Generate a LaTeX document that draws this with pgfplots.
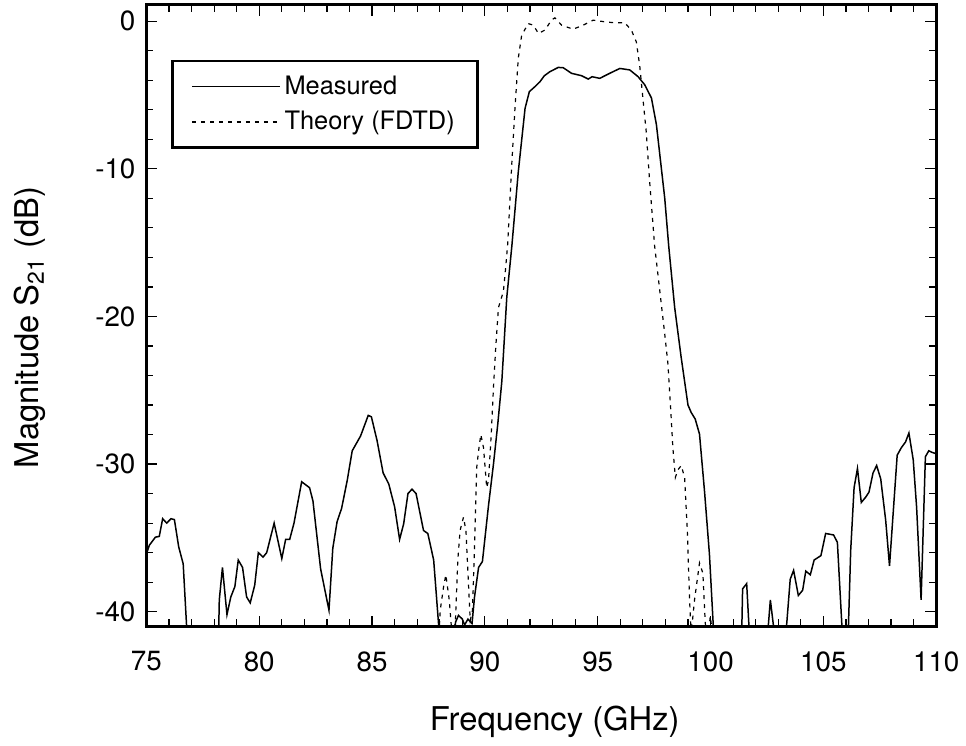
\documentclass[border=0pt]{standalone}
\usepackage{fontspec}
\setmainfont{TeX Gyre Heros}
\usepackage{pgfplots}
\pgfplotsset{compat=1.18}
\begin{document}
\begin{tikzpicture}
\path (0bp,0bp) rectangle (483bp,374.5bp);
\begin{axis}[
  at={(73.5bp,60bp)}, anchor=south west,
  scale only axis, width=396.5bp, height=312bp,
  xmin=75, xmax=110, ymin=-41, ymax=1.1,
  xtick={75,80,...,110}, ytick={-40,-30,...,0},
  minor x tick num=4, minor y tick num=4,
  tick align=inside,
  major tick length=5.5bp, minor tick length=3.5bp,
  every tick/.style={black, line width=0.6bp},
  axis line style={line width=1.5bp},
  /pgf/number format/assume math mode=true,
  ticklabel style={font=\fontsize{14}{16}\selectfont},
  xticklabel style={yshift=-9bp},
  yticklabel style={xshift=-2bp},
  xlabel={Frequency (GHz)},
  ylabel={Magnitude S\textsubscript{21} (dB)},
  label style={font=\fontsize{16.5}{19}\selectfont},
  xlabel style={at={(axis description cs:0.517,-0.117)}, anchor=north},
  ylabel style={at={(axis description cs:-0.1185,0.481)}, anchor=south},
  legend style={at={(rel axis cs:0.0315,0.912)}, anchor=north west,
    draw=black, line width=1.2bp, font=\fontsize{12.8}{14}\selectfont,
    inner xsep=9.5bp, inner ysep=5.5bp, row sep=3bp,
    /tikz/every even column/.append style={column sep=6bp}},
  legend cell align=left,
  legend image code/.code={\draw[#1] (0bp,0bp) -- (44bp,0bp);},
]
\addplot[black, line width=0.75bp] coordinates {
(75.0,-36.1) (75.13,-35.5) (75.4,-34.95) (75.57,-34.9) (75.72,-33.7) (75.9,-34.0)
(76.09,-33.7) (76.24,-33.76) (76.43,-35.6) (76.63,-36.76) (76.8,-41.5) (77.5,-50)
(78.2,-41.5) (78.23,-39.2) (78.37,-37.0) (78.57,-40.2) (78.74,-39.0) (78.92,-38.3)
(79.07,-36.5) (79.26,-37.0) (79.44,-39.0) (79.6,-39.4) (79.8,-38.2) (79.96,-36.0)
(80.17,-36.3) (80.33,-36.0) (80.66,-34.0) (81.0,-36.4) (81.17,-35.1) (81.35,-35.1)
(81.54,-34.0) (81.88,-31.2) (82.23,-31.6) (82.38,-32.5) (82.72,-37.1) (83.09,-39.9)
(83.26,-35.7) (83.45,-33.9) (83.65,-33.0) (83.9,-31.1) (84.12,-29.1) (84.49,-28.1)
(84.83,-26.7) (84.97,-26.8) (85.22,-28.4) (85.49,-30.6) (85.74,-31.35) (86.0,-32.9)
(86.22,-35.1) (86.4,-34.05) (86.59,-32.0) (86.77,-31.7) (86.95,-32.0) (87.28,-34.5)
(87.47,-34.7) (87.73,-36.5) (87.98,-41.5) (88.3,-50) (88.66,-41.5) (88.7,-40.7)
(88.83,-40.25) (89.0,-40.5) (89.1,-40.9) (89.25,-40.5) (89.43,-40.8) (89.54,-39.0)
(89.72,-37.0) (89.89,-36.6) (90.16,-32.8) (90.38,-30.0) (90.57,-27.3) (90.75,-24.4)
(90.97,-18.7) (91.19,-15.3) (91.48,-10.2) (91.78,-5.9) (91.97,-4.77) (92.22,-4.43)
(92.44,-4.1) (92.63,-3.7) (92.88,-3.42) (93.25,-3.13) (93.47,-3.15) (93.84,-3.53)
(94.28,-3.69) (94.58,-3.92) (94.75,-3.76) (95.09,-3.87) (95.53,-3.53) (95.98,-3.2)
(96.42,-3.3) (96.79,-3.76) (97.08,-4.3) (97.38,-5.2) (97.6,-7.0) (97.97,-12.0)
(98.15,-15.3) (98.41,-19.4) (98.7,-22.8) (99.0,-26.0) (99.14,-26.5) (99.32,-26.95)
(99.51,-27.97) (99.73,-31.8) (99.95,-36.1) (100.14,-41.5) (100.8,-50) (101.38,-41.5)
(101.42,-38.45) (101.6,-38.1) (101.72,-41.5) (102.1,-50) (102.53,-41.5) (102.65,-39.2)
(102.83,-41.5) (103.1,-50) (103.34,-41.5) (103.53,-37.8) (103.68,-37.2) (103.89,-38.9)
(104.08,-38.55) (104.22,-37.25) (104.42,-37.5) (104.59,-36.5) (104.89,-36.2) (105.1,-34.7)
(105.45,-34.8) (105.62,-35.3) (105.84,-41.5) (105.97,-50) (106.1,-41.5) (106.21,-35.85)
(106.36,-31.6) (106.51,-30.3) (106.68,-32.6) (106.87,-32.25) (107.02,-31.9) (107.2,-30.6)
(107.36,-30.1) (107.54,-31.0) (107.76,-33.8) (107.93,-36.9) (108.27,-29.4) (108.45,-28.9)
(108.64,-28.5) (108.79,-27.9) (108.98,-29.7) (109.13,-32.9) (109.33,-39.2) (109.52,-29.5)
(109.67,-29.1) (109.8,-29.2) (110,-29.3)
};
\addlegendentry{Measured}
\addplot[black, line width=0.6bp, dash pattern=on 2bp off 2.5bp] coordinates {
(87.5,-50) (87.97,-41.5) (88.02,-39.9) (88.17,-38.3) (88.27,-37.5) (88.42,-39.2)
(88.54,-41.5) (88.69,-40.8) (88.8,-36.5) (88.9,-34.5) (89.05,-33.6) (89.16,-34.5)
(89.25,-37.4) (89.35,-40.6) (89.45,-39.9) (89.54,-35.6) (89.64,-30.2) (89.72,-29.1)
(89.82,-28.0) (89.94,-28.9) (90.08,-31.6) (90.16,-31.1) (90.28,-28.0) (90.38,-24.8)
(90.48,-22.1) (90.6,-19.4) (90.82,-18.3) (90.92,-16.7) (91.01,-15.1) (91.19,-9.7)
(91.34,-5.7) (91.48,-2.5) (91.63,-0.95) (91.92,-0.16) (92.15,-0.27) (92.37,-0.83)
(92.66,-0.6) (92.95,0.07) (93.1,0.23) (93.4,-0.27) (93.91,-0.54) (94.35,-0.27)
(94.8,0.07) (95.31,-0.04) (95.76,-0.11) (96.2,-0.11) (96.49,-0.6) (96.71,-1.4)
(96.86,-3.0) (97.0,-5.2) (97.15,-7.5) (97.3,-10.85) (97.52,-15.2) (97.82,-19.2)
(97.97,-21.2) (98.11,-23.2) (98.23,-26.2) (98.33,-28.9) (98.44,-30.9) (98.55,-30.4)
(98.7,-30.1) (98.85,-30.9) (98.97,-34.5) (99.07,-39.2) (99.14,-41.5) (99.29,-39.2)
(99.51,-36.7) (99.66,-37.4) (99.76,-40.6) (99.8,-41.5) (99.9,-41.5) (99.99,-40.3)
(100.08,-41.5) (100.5,-50)
};
\addlegendentry{Theory (FDTD)}
\end{axis}
\end{tikzpicture}
\end{document}
